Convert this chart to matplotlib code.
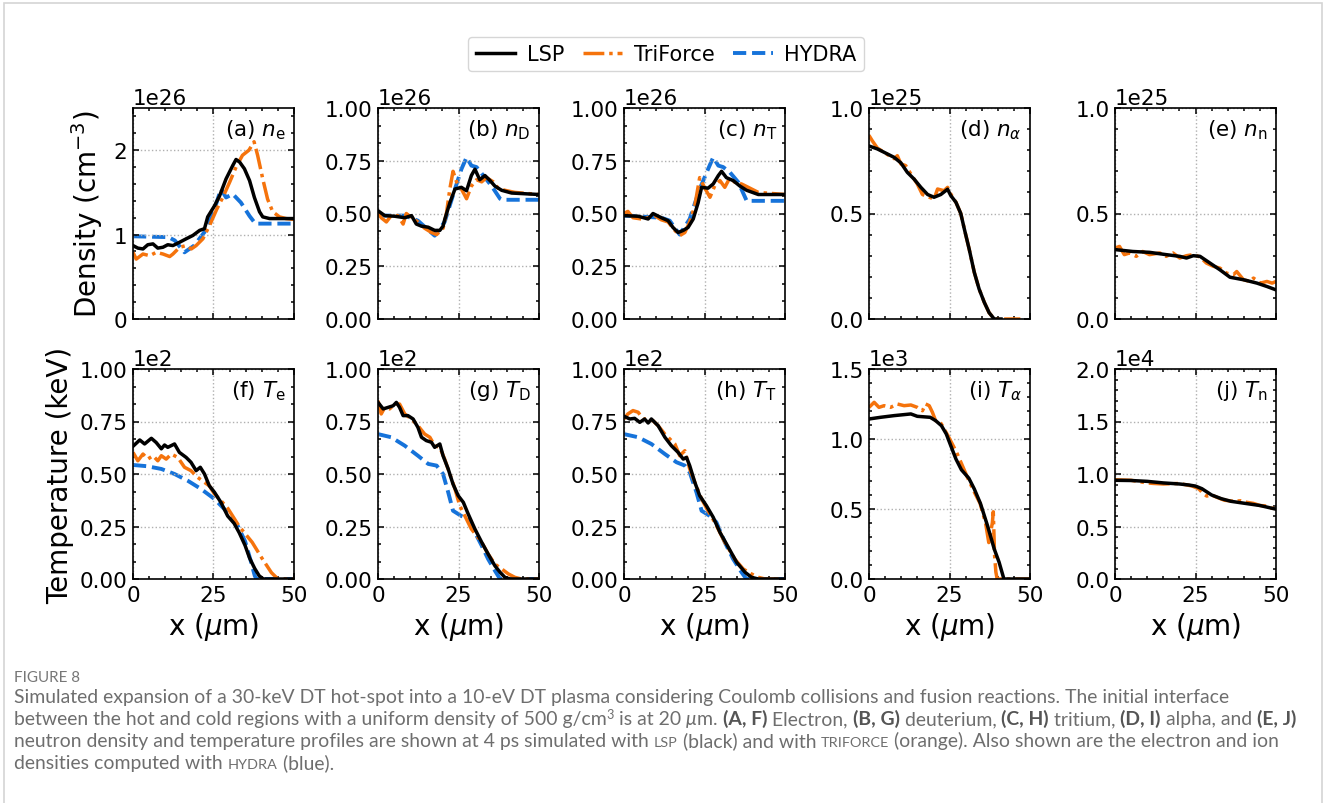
import numpy as np
import matplotlib
matplotlib.use("Agg")
import matplotlib.pyplot as plt
from matplotlib.ticker import MultipleLocator, AutoMinorLocator, ScalarFormatter
from matplotlib.patches import Rectangle

W, H = 1328, 804

# ---- density panels (values in units of the axis offset) ----
# (a) electron density, x1e26
ne_lsp_x = [0, 1.5, 3.1, 4.6, 6.2, 7.7, 9.3, 10.8, 12.4, 14.5, 16.5, 18.6, 20.7, 22.2, 23.2, 25.3,
            26.9, 28.9, 31.0, 32.0, 33.1, 34.6, 36.2, 37.7, 39.3, 40.3, 42.4, 50]
ne_lsp = [0.87, 0.84, 0.83, 0.88, 0.89, 0.84, 0.85, 0.88, 0.87, 0.91, 0.95, 0.99, 1.05, 1.07, 1.21, 1.34,
          1.46, 1.66, 1.82, 1.89, 1.86, 1.78, 1.64, 1.44, 1.27, 1.21, 1.19, 1.19]
ne_tri_x = [0, 1.0, 3.1, 5.2, 7.2, 9.3, 11.4, 12.4, 14.5, 16.5, 18.1, 19.6, 21.7, 23.8, 26.0, 28.0,
            30.0, 32.0, 34.0, 36.0, 37.6, 38.7, 40.3, 41.8, 43.4, 45.5, 47.5, 50]
ne_tri = [0.79, 0.71, 0.77, 0.75, 0.79, 0.77, 0.74, 0.77, 0.85, 0.87, 0.83, 0.87, 0.95, 1.11, 1.30, 1.45,
          1.62, 1.80, 1.94, 2.00, 2.10, 1.94, 1.66, 1.42, 1.27, 1.21, 1.19, 1.18]
ne_hyd_x = [0, 11, 13, 16, 19, 22.2, 25.3, 27.3, 28.9, 31, 33.5, 36.2, 38, 50]
ne_hyd = [0.98, 0.97, 0.93, 0.79, 0.87, 1.03, 1.30, 1.54, 1.44, 1.48, 1.38, 1.22, 1.13, 1.13]

# (b) deuterium density, x1e26
nd_lsp_x = [0, 2.1, 5.2, 8.3, 10.4, 11.9, 13.5, 15.6, 17.6, 19.2, 20.2, 20.7, 22.3, 23.9, 25.9, 27.5,
            29.0, 30.1, 31.6, 33.2, 34.8, 36.3, 38.4, 41.5, 50]
nd_lsp = [0.513, 0.49, 0.487, 0.48, 0.49, 0.45, 0.44, 0.435, 0.42, 0.42, 0.44, 0.47, 0.55, 0.616, 0.624, 0.608,
          0.68, 0.71, 0.66, 0.68, 0.656, 0.63, 0.61, 0.597, 0.59]
nd_tri_x = [0, 1.0, 2.6, 4.1, 6.2, 7.8, 8.8, 10.4, 12.4, 14.5, 16.6, 18.2, 20.2, 21.3, 22.3, 23.3,
            24.4, 25.9, 27.5, 29.0, 30.6, 32.2, 33.7, 35.8, 37.3, 39.4, 42.5, 50]
nd_tri = [0.505, 0.48, 0.46, 0.49, 0.49, 0.45, 0.50, 0.48, 0.46, 0.43, 0.41, 0.40, 0.43, 0.505, 0.616, 0.70,
          0.65, 0.616, 0.57, 0.63, 0.66, 0.65, 0.67, 0.65, 0.62, 0.61, 0.60, 0.59]
nd_hyd_x = [0, 8.3, 12.4, 17.6, 20.7, 23.9, 25.9, 27.5, 29.0, 30.6, 32.7, 35.3, 37.9, 38.5, 50]
nd_hyd = [0.49, 0.49, 0.466, 0.395, 0.46, 0.616, 0.71, 0.766, 0.727, 0.72, 0.68, 0.63, 0.57, 0.565, 0.565]

# (c) tritium density, x1e26
nt_lsp_x = [0, 4.4, 7.5, 9.0, 11.6, 13.7, 15.2, 16.8, 18.4, 19.9, 21.5, 23.0, 24.1, 26.1, 27.7, 29.3,
            30.3, 31.8, 33.9, 36.0, 38.1, 41.7, 50]
nt_lsp = [0.49, 0.487, 0.474, 0.50, 0.48, 0.466, 0.434, 0.41, 0.42, 0.434, 0.474, 0.55, 0.624, 0.62, 0.64, 0.68,
          0.70, 0.67, 0.656, 0.63, 0.61, 0.59, 0.59]
nt_tri_x = [0, 1.2, 2.8, 5.4, 7.5, 9.5, 11.6, 13.7, 15.2, 17.3, 18.9, 20.4, 22.0, 23.5, 25.1, 26.7,
            28.2, 29.8, 31.3, 32.9, 34.4, 36.5, 38.6, 41.7, 50]
nt_tri = [0.50, 0.51, 0.48, 0.474, 0.48, 0.49, 0.47, 0.46, 0.43, 0.395, 0.41, 0.46, 0.537, 0.67, 0.62, 0.577,
          0.632, 0.656, 0.624, 0.67, 0.648, 0.64, 0.624, 0.60, 0.59]
nt_hyd_x = [0, 11.6, 14.2, 17.3, 20.4, 23.5, 26.1, 27.7, 29.3, 30.8, 32.9, 35.5, 38.1, 50]
nt_hyd = [0.49, 0.48, 0.466, 0.40, 0.474, 0.616, 0.71, 0.766, 0.727, 0.72, 0.695, 0.648, 0.56, 0.56]

# (d) alpha density, x1e25
na_lsp_x = [0, 2.6, 4.7, 7.8, 9.9, 11.9, 14.0, 16.1, 18.2, 20.2, 22.3, 24.4, 25.4, 27.0, 28.5, 29.6,
            31.1, 32.7, 34.2, 35.8, 37.3, 38.9, 41]
na_lsp = [0.82, 0.806, 0.79, 0.766, 0.74, 0.695, 0.663, 0.624, 0.59, 0.577, 0.59, 0.615, 0.585, 0.553, 0.50, 0.427,
          0.332, 0.221, 0.142, 0.079, 0.03, 0.0, 0.0]
na_tri_x = [0, 1.0, 2.6, 4.7, 6.7, 7.8, 8.8, 9.9, 11.4, 13.0, 15.0, 16.6, 18.7, 20.2, 21.3, 23.3, 24.4,
            25.4, 27.0, 28.5, 29.6, 31.1, 32.7, 34.2, 35.8, 37.3, 38.9, 47]
na_tri = [0.87, 0.845, 0.81, 0.79, 0.77, 0.76, 0.774, 0.735, 0.727, 0.687, 0.64, 0.59, 0.577, 0.569, 0.616, 0.608, 0.624,
          0.592, 0.553, 0.50, 0.427, 0.332, 0.221, 0.142, 0.079, 0.03, 0.0, 0.0]

# (e) neutron density, x1e25
nn_lsp_x = [0, 5.5, 10.7, 15.9, 20.1, 22.2, 24.3, 26.4, 29.5, 32.6, 35.7, 39.9, 44.1, 47.2, 50]
nn_lsp = [0.329, 0.32, 0.316, 0.305, 0.297, 0.289, 0.30, 0.297, 0.265, 0.233, 0.198, 0.186, 0.17, 0.154, 0.138]
nn_tri_x = [0, 1.4, 2.9, 4.5, 6.6, 8.6, 10.7, 13.9, 15.9, 18.0, 20.1, 22.2, 24.3, 26.4, 28.4, 30.5, 32.6,
            34.7, 36.8, 37.8, 39.9, 42.0, 43.0, 45.1, 47.2, 48.8, 50]
nn_tri = [0.336, 0.344, 0.305, 0.313, 0.297, 0.32, 0.305, 0.313, 0.297, 0.313, 0.289, 0.30, 0.305, 0.294, 0.265,
          0.25, 0.241, 0.217, 0.21, 0.225, 0.186, 0.178, 0.194, 0.17, 0.178, 0.17, 0.178]

# ---- temperature panels ----
# (f) electron temperature, x1e2 keV
te_lsp_x = [0, 2.1, 3.6, 5.7, 7.2, 8.8, 9.8, 10.8, 12.9, 14.4, 16.5, 18.0, 19.6, 20.9, 22.2, 23.7, 25.3,
            27.3, 29.4, 31.4, 33.0, 34.8, 36.2, 37.8, 39.2, 40.5, 50]
te_lsp = [0.632, 0.662, 0.643, 0.67, 0.65, 0.62, 0.638, 0.627, 0.643, 0.603, 0.579, 0.556, 0.516, 0.532, 0.50,
          0.444, 0.413, 0.365, 0.30, 0.265, 0.22, 0.16, 0.10, 0.05, 0.015, 0.0, 0.0]
te_tri_x = [0, 1.5, 3.1, 4.6, 6.2, 7.7, 8.8, 10.3, 11.9, 13.9, 16.0, 18.0, 20.1, 22.2, 23.7, 25.3, 27.5,
            29.5, 33.0, 37.0, 40.0, 43.0, 45.0, 50]
te_tri = [0.603, 0.563, 0.595, 0.571, 0.587, 0.563, 0.587, 0.571, 0.595, 0.579, 0.532, 0.516, 0.484, 0.46, 0.444,
          0.405, 0.37, 0.335, 0.25, 0.175, 0.10, 0.03, 0.0, 0.0]
te_hyd_x = [0, 4.4, 8.8, 12.9, 17.0, 21.1, 25.3, 29.4, 32.5, 34.8, 36.5, 37.8, 38.3, 50]
te_hyd = [0.543, 0.537, 0.524, 0.50, 0.468, 0.429, 0.381, 0.317, 0.254, 0.18, 0.09, 0.016, 0.0, 0.0]

# (g) deuterium temperature, x1e2 keV
td_lsp_x = [0, 1.6, 3.1, 4.7, 5.7, 6.7, 7.8, 9.3, 10.9, 12.4, 13.5, 15.0, 16.6, 17.6, 19.2, 20.2, 21.8,
            23.3, 24.9, 26.5, 28.0, 30.1, 32.2, 34.2, 36.3, 37.9, 39.4, 41.0, 50]
td_lsp = [0.841, 0.81, 0.817, 0.825, 0.841, 0.817, 0.778, 0.778, 0.762, 0.722, 0.675, 0.659, 0.651, 0.627, 0.643,
          0.587, 0.524, 0.452, 0.397, 0.365, 0.31, 0.238, 0.175, 0.119, 0.063, 0.032, 0.008, 0.0, 0.0]
td_tri_x = [0, 1.0, 2.1, 3.6, 5.2, 6.7, 8.3, 10.4, 12.4, 14.5, 16.1, 17.6, 19.2, 20.7, 22.3, 23.9, 25.4,
            27.0, 29.0, 32.2, 34.2, 36.3, 38.4, 40.5, 42.5, 44.6, 50]
td_tri = [0.849, 0.786, 0.817, 0.81, 0.833, 0.833, 0.786, 0.762, 0.73, 0.69, 0.675, 0.635, 0.627, 0.571, 0.50,
          0.429, 0.349, 0.30, 0.238, 0.175, 0.119, 0.071, 0.048, 0.024, 0.008, 0.0, 0.0]
td_hyd_x = [0, 4.1, 8.3, 12.4, 15.6, 18.2, 20.2, 21.8, 23.3, 25.9, 28.0, 30.1, 32.2, 34.2, 36.3, 37.9, 50]
td_hyd = [0.69, 0.675, 0.635, 0.587, 0.548, 0.54, 0.50, 0.413, 0.325, 0.30, 0.286, 0.222, 0.159, 0.095, 0.04,
          0.0, 0.0]

# (h) tritium temperature, x1e2 keV
tt_lsp_x = [0, 1.8, 3.3, 4.9, 6.4, 7.5, 8.5, 10.6, 12.7, 14.7, 16.8, 18.4, 19.4, 20.4, 22.0, 23.5, 25.6,
            27.7, 29.8, 32.4, 35.0, 37.6, 39.6, 41.7, 50]
tt_lsp = [0.775, 0.762, 0.765, 0.746, 0.762, 0.743, 0.762, 0.73, 0.675, 0.635, 0.603, 0.571, 0.579, 0.54, 0.46,
          0.397, 0.349, 0.294, 0.222, 0.151, 0.079, 0.032, 0.008, 0.0, 0.0]
tt_tri_x = [0, 1.2, 2.8, 4.4, 5.9, 7.5, 9.0, 10.6, 12.7, 14.2, 15.8, 17.3, 18.9, 20.4, 22.0, 24.1, 26.1,
            28.2, 31.3, 34.4, 37.0, 39.6, 41.7, 43.8, 50]
tt_tri = [0.762, 0.786, 0.802, 0.794, 0.762, 0.762, 0.754, 0.73, 0.69, 0.667, 0.643, 0.587, 0.611, 0.524, 0.46,
          0.381, 0.325, 0.27, 0.175, 0.095, 0.048, 0.024, 0.008, 0.0, 0.0]
tt_hyd_x = [0, 4.4, 8.5, 12.7, 16.3, 18.9, 20.4, 22.5, 24.1, 26.7, 28.7, 31.3, 33.9, 36.5, 38.0, 50]
tt_hyd = [0.69, 0.675, 0.643, 0.595, 0.556, 0.54, 0.508, 0.413, 0.325, 0.30, 0.27, 0.175, 0.095, 0.032, 0.0, 0.0]

# (i) alpha temperature, x1e3 keV
ta_lsp_x = [0, 3.6, 7.8, 13.0, 15.0, 19.0, 20.7, 22.5, 24.0, 25.6, 27.0, 28.7, 31.0, 32.7, 34.6, 36.8,
            38.9, 40.4, 41.9, 50]
ta_lsp = [1.143, 1.155, 1.167, 1.179, 1.162, 1.155, 1.131, 1.095, 1.036, 0.94, 0.857, 0.78, 0.72, 0.643, 0.54,
          0.381, 0.214, 0.12, 0.0, 0.0]
ta_tri_x = [0, 1.6, 3.1, 4.7, 6.7, 8.8, 10.9, 13.0, 15.0, 16.6, 17.6, 18.7, 19.7, 20.7, 22.4, 24.6, 27.2,
            30.3, 32.5, 34.5, 36.2, 37.2, 38.3, 38.6, 39.0, 39.4, 39.8, 50]
ta_tri = [1.226, 1.262, 1.226, 1.238, 1.226, 1.25, 1.238, 1.243, 1.226, 1.202, 1.25, 1.238, 1.19, 1.13, 1.11, 1.02,
          0.905, 0.74, 0.63, 0.54, 0.40, 0.26, 0.40, 0.48, 0.17, 0.05, 0.0, 0.0]

# (j) neutron temperature, x1e4 keV
tn_lsp_x = [0, 5, 10, 15, 20, 23, 25, 27, 30, 33, 36, 40, 45, 50]
tn_lsp = [0.94, 0.938, 0.93, 0.915, 0.905, 0.895, 0.885, 0.86, 0.80, 0.765, 0.74, 0.722, 0.70, 0.665]
tn_tri_x = [0, 5, 10, 12, 15, 20, 24, 26, 27.5, 28.5, 30, 31.5, 34, 37, 39, 41, 43, 45, 47, 48.5, 50]
tn_tri = [0.945, 0.94, 0.915, 0.91, 0.905, 0.91, 0.885, 0.86, 0.81, 0.79, 0.80, 0.78, 0.75, 0.74, 0.745, 0.73,
          0.72, 0.70, 0.695, 0.675, 0.67]

labels = [r"(a) $n_\mathrm{e}$", r"(b) $n_\mathrm{D}$", r"(c) $n_\mathrm{T}$", r"(d) $n_\alpha$",
          r"(e) $n_\mathrm{n}$", r"(f) $T_\mathrm{e}$", r"(g) $T_\mathrm{D}$", r"(h) $T_\mathrm{T}$",
          r"(i) $T_\alpha$", r"(j) $T_\mathrm{n}$"]
orders = [26, 26, 26, 25, 25, 2, 2, 2, 3, 4]
ytops = [2.5, 1.0, 1.0, 1.0, 1.0, 1.0, 1.0, 1.0, 1.5, 2.0]
ysteps = [1.0, 0.25, 0.25, 0.5, 0.5, 0.25, 0.25, 0.25, 0.5, 0.5]

series = [
    [(ne_lsp_x, ne_lsp), (ne_tri_x, ne_tri), (ne_hyd_x, ne_hyd)],
    [(nd_lsp_x, nd_lsp), (nd_tri_x, nd_tri), (nd_hyd_x, nd_hyd)],
    [(nt_lsp_x, nt_lsp), (nt_tri_x, nt_tri), (nt_hyd_x, nt_hyd)],
    [(na_lsp_x, na_lsp), (na_tri_x, na_tri), None],
    [(nn_lsp_x, nn_lsp), (nn_tri_x, nn_tri), None],
    [(te_lsp_x, te_lsp), (te_tri_x, te_tri), (te_hyd_x, te_hyd)],
    [(td_lsp_x, td_lsp), (td_tri_x, td_tri), (td_hyd_x, td_hyd)],
    [(tt_lsp_x, tt_lsp), (tt_tri_x, tt_tri), (tt_hyd_x, tt_hyd)],
    [(ta_lsp_x, ta_lsp), (ta_tri_x, ta_tri), None],
    [(tn_lsp_x, tn_lsp), (tn_tri_x, tn_tri), None],
]

names = ["LSP", "TriForce", "HYDRA"]
colors = ["black", "#f5730c", "#1673da"]
styles = ["-", (0, (6.0, 1.4, 1.0, 1.4)), (0, (3.4, 1.5))]
widths = [2.5, 2.5, 2.8]
zorders = [3, 2, 1]

TICK = 15.5
plt.rcParams["font.family"] = "DejaVu Sans"
plt.rcParams["mathtext.fontset"] = "dejavusans"


class FixedOrder(ScalarFormatter):
    # keeps the offset text at a given power of ten (1e25 instead of 1e24)
    def __init__(self, order):
        self.fixed_order = order
        super().__init__(useMathText=False)

    def _set_order_of_magnitude(self):
        self.orderOfMagnitude = self.fixed_order


fig = plt.figure(figsize=(W / 100, H / 100), dpi=100)

# light frame round the whole figure
fig.patches.append(Rectangle((4 / W, -0.02), 1318 / W, 1 - 4 / H + 0.02, transform=fig.transFigure,
                             fill=False, edgecolor="#d4d4d4", linewidth=1.2))

lefts = [133, 378, 624, 869, 1115]
handles = []
for i in range(10):
    row, col = divmod(i, 5)
    top, bot = (109, 320) if row == 0 else (370, 580)
    ax = fig.add_axes([lefts[col] / W, 1 - bot / H, 161 / W, (bot - top) / H])
    sc = 10.0 ** orders[i]
    for k, s in enumerate(series[i]):
        if s is None:
            continue
        ln, = ax.plot(s[0], np.array(s[1]) * sc, color=colors[k], ls=styles[k], lw=widths[k],
                      zorder=zorders[k], label=names[k])
        if i == 0:
            handles.append(ln)
    ax.set_xlim(0, 50)
    ax.set_ylim(0, ytops[i] * sc)
    ax.xaxis.set_major_locator(MultipleLocator(25))
    ax.xaxis.set_minor_locator(MultipleLocator(5))
    ax.yaxis.set_major_locator(MultipleLocator(ysteps[i] * sc))
    ax.yaxis.set_minor_locator(AutoMinorLocator(3 if ysteps[i] == 0.25 else 5))
    ax.yaxis.set_major_formatter(FixedOrder(orders[i]))
    ax.yaxis.get_offset_text().set_fontsize(TICK)
    ax.tick_params(which="both", direction="in", top=True, right=True, labelsize=TICK, width=1.1)
    ax.tick_params(which="major", length=4.5, pad=4)
    ax.tick_params(which="minor", length=2.5)
    for sp in ax.spines.values():
        sp.set_linewidth(1.2)
    ax.grid(True, which="major", ls=":", color="#b0b0b0", lw=1.0)
    if row == 0:
        ax.tick_params(labelbottom=False)
    else:
        ax.set_xlabel(r"x ($\mu$m)", fontsize=20, labelpad=4)
    ax.text(0.95, 0.955, labels[i], transform=ax.transAxes, ha="right", va="top", fontsize=TICK)
    if i == 0:
        ax.set_ylabel(r"Density (cm$^{-3}$)", fontsize=20, labelpad=6)
    if i == 5:
        ax.set_ylabel("Temperature (keV)", fontsize=20, labelpad=4)

fig.legend(handles=handles, loc="center", bbox_to_anchor=(666 / W, 1 - 55 / H), ncol=3,
           fontsize=15, handlelength=1.9, columnspacing=0.9, handletextpad=0.55,
           edgecolor="#cccccc", borderpad=0.35)

# ---- caption ----
renderer = fig.canvas.get_renderer()
CAP_FONT = "Lato"
GREY = "#6e6e6e"
DARK = "#555555"


def run_width(text, props):
    t = fig.text(0, 0, "a" + text + "a", **props)
    w1 = t.get_window_extent(renderer).width
    t.set_text("aa")
    w2 = t.get_window_extent(renderer).width
    t.remove()
    return w1 - w2


def make_props(base, opts):
    p = dict(family=CAP_FONT, fontsize=base * opts.get("k", 1.0), color=opts.get("c", GREY),
             weight=opts.get("w", "normal"), style=opts.get("s", "normal"))
    return p


def line_width(runs, base):
    return sum(run_width(t, make_props(base, o)) for t, o in runs)


def draw_line(runs, x0, ybase, base):
    x = x0
    for t, o in runs:
        p = make_props(base, o)
        fig.text(x / W, 1 - (ybase - o.get("dy", 0)) / H, t, va="baseline", ha="left", **p)
        x += run_width(t, p)


SC = dict(k=0.74)
B = dict(w="bold", c=DARK)
line1 = [("Simulated expansion of a 30-keV DT hot-spot into a 10-eV DT plasma considering Coulomb "
          "collisions and fusion reactions. The initial interface", {})]
line2 = [("between the hot and cold regions with a uniform density of 500 g/cm", {}),
         ("3", dict(k=0.65, dy=6)), (" is at 20 ", {}), ("\u03bc", dict(s="italic")), ("m. ", {}),
         ("(A, F)", B), (" Electron, ", {}), ("(B, G)", B), (" deuterium, ", {}), ("(C, H)", B),
         (" tritium, ", {}), ("(D, I)", B), (" alpha, and ", {}), ("(E, J)", B)]
line3 = [("neutron density and temperature profiles are shown at 4 ps simulated with ", {}), ("LSP", SC),
         (" (black) and with ", {}), ("TRIFORCE", SC),
         (" (orange). Also shown are the electron and ion", {})]
line4 = [("densities computed with ", {}), ("HYDRA", SC), (" (blue).", {})]

w10 = line_width(line1, 10)
base = 10 * 1214 / w10
draw_line([("FIGURE 8", dict(k=0.78, c="#777777"))], 14, 682, base)
draw_line(line1, 14, 703, base)
draw_line(line2, 14, 725, base)
draw_line(line3, 14, 747, base)
draw_line(line4, 14, 769, base)

fig.savefig("out.png", dpi=100)
